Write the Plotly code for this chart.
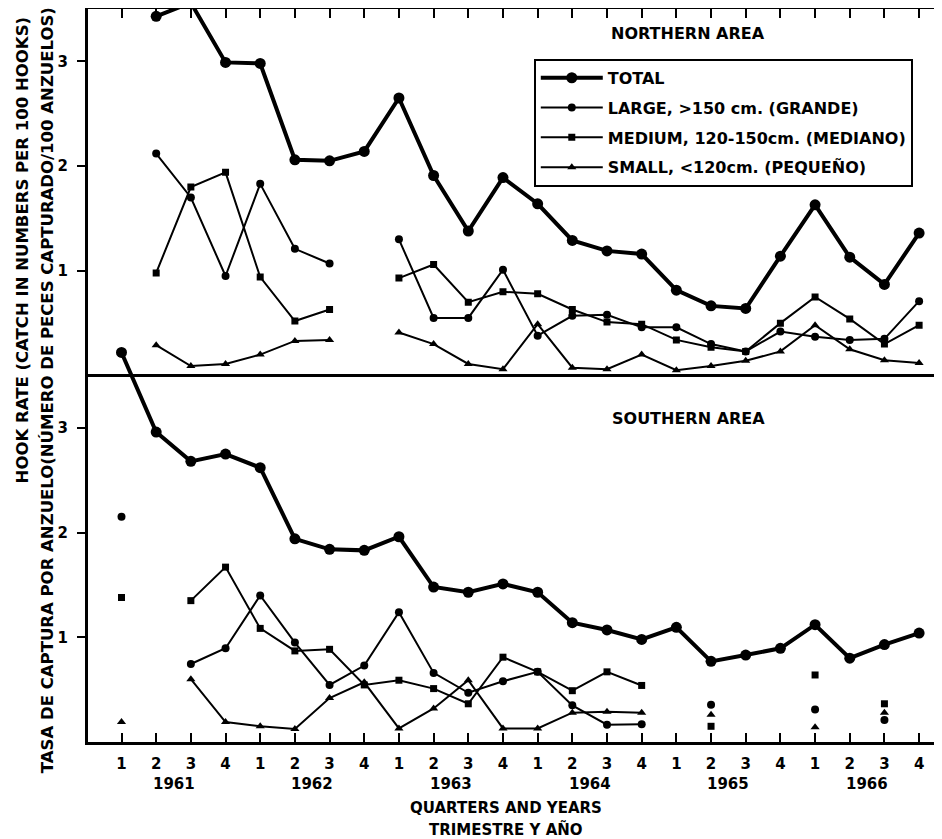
import plotly.graph_objects as go

# quarter positions 1961 Q1 .. 1966 Q4
quarters = list(range(24))
quarter_labels = ["1", "2", "3", "4"] * 6
years = [1961, 1962, 1963, 1964, 1965, 1966]

# Northern area hook rates
total_n = [None, 3.43, 3.56, 2.99, 2.98, 2.06, 2.05, 2.14, 2.65, 1.91, 1.38, 1.89,
           1.64, 1.29, 1.19, 1.16, 0.815, 0.665, 0.64, 1.14, 1.63, 1.13, 0.87, 1.36]
large_n = [None, 2.12, 1.70, 0.95, 1.83, 1.21, 1.07, None, 1.30, 0.55, 0.55, 1.01,
           0.38, 0.57, 0.58, 0.46, 0.46, 0.30, 0.23, 0.42, 0.37, 0.34, 0.35, 0.71]
medium_n = [None, 0.98, 1.80, 1.94, 0.94, 0.52, 0.63, None, 0.93, 1.06, 0.70, 0.80,
            0.78, 0.63, 0.51, 0.49, 0.34, 0.27, 0.23, 0.50, 0.75, 0.54, 0.30, 0.48]
small_n = [None, 0.29, 0.09, 0.11, 0.20, 0.33, 0.34, None, 0.41, 0.30, 0.11, 0.06,
           0.49, 0.075, 0.06, 0.20, 0.05, 0.09, 0.14, 0.23, 0.48, 0.25, 0.145, 0.12]

# Southern area hook rates
total_s = [3.72, 2.96, 2.68, 2.75, 2.62, 1.94, 1.84, 1.83, 1.96, 1.48, 1.43, 1.51,
           1.43, 1.14, 1.07, 0.98, 1.095, 0.77, 0.83, 0.895, 1.12, 0.80, 0.93, 1.04]
large_s = [2.15, None, 0.745, 0.895, 1.40, 0.95, 0.545, 0.73, 1.24, 0.66, 0.47, 0.58,
           0.67, 0.35, 0.165, 0.17, None, 0.355, None, None, 0.31, None, 0.21, None]
medium_s = [1.38, None, 1.35, 1.67, 1.085, 0.87, 0.885, 0.545, 0.59, 0.51, 0.365, 0.81,
            0.67, 0.49, 0.67, 0.54, None, 0.15, None, None, 0.64, None, 0.365, None]
small_s = [0.19, None, 0.60, 0.19, 0.15, 0.125, 0.42, 0.57, 0.13, 0.32, 0.59, 0.13,
           0.13, 0.28, 0.29, 0.28, None, 0.26, None, None, 0.14, None, 0.28, None]

series = [
    ("TOTAL", total_n, total_s, "circle", 11, 4),
    ("LARGE, &gt;150 cm. (GRANDE)", large_n, large_s, "circle", 8, 2),
    ("MEDIUM, 120-150cm. (MEDIANO)", medium_n, medium_s, "square", 7, 2),
    ("SMALL, &lt;120cm. (PEQUEÑO)", small_n, small_s, "triangle-up", 8, 2),
]

fig = go.Figure()

for name, north, south, symbol, msize, lw in series:
    fig.add_trace(go.Scatter(
        x=quarters, y=north, mode="lines+markers", name=name, legendgroup=name,
        line=dict(color="black", width=lw),
        marker=dict(symbol=symbol, size=msize, color="black"),
        xaxis="x", yaxis="y",
    ))
    fig.add_trace(go.Scatter(
        x=quarters, y=south, mode="lines+markers", name=name, legendgroup=name,
        showlegend=False, connectgaps=False,
        line=dict(color="black", width=lw),
        marker=dict(symbol=symbol, size=msize, color="black"),
        xaxis="x", yaxis="y2",
    ))

axis_font = dict(family="DejaVu Sans", size=15, color="black", weight="bold")
y_common = dict(
    tickmode="array", tickvals=[1, 2, 3], anchor="x",
    ticks="outside", ticklen=8, tickwidth=2, tickcolor="black",
    showline=True, linewidth=3, linecolor="black",
    showgrid=False, zeroline=False, tickfont=axis_font,
    ticklabelstandoff=6, automargin=False,
)

# the page body adds an 8px offset, so the figure is 8px smaller than the window
fig.update_layout(
    width=934, height=831,
    margin=dict(l=80, r=0, t=1, b=97),
    paper_bgcolor="white", plot_bgcolor="rgba(0,0,0,0)",
    font=dict(family="DejaVu Sans", size=15, color="black", weight="bold"),
    xaxis=dict(
        domain=[0, 1], range=[-0.966, 23.66], anchor="y2",
        tickmode="array", tickvals=quarters, ticktext=quarter_labels,
        ticks="inside", ticklen=9, tickwidth=2, tickcolor="black",
        showline=True, linewidth=3, linecolor="black", mirror="ticks",
        showgrid=False, zeroline=False, tickfont=axis_font,
        ticklabelstandoff=6, automargin=False,
    ),
    yaxis=dict(domain=[0.5, 1], range=[0, 3.5], **y_common),
    yaxis2=dict(domain=[0, 1], range=[0, 7], **y_common),
    legend=dict(
        x=0.522, y=0.932, xanchor="left", yanchor="top",
        bgcolor="white", bordercolor="black", borderwidth=2,
        font=dict(family="DejaVu Sans", size=16, color="black", weight="bold"),
        tracegroupgap=6, itemwidth=62,
    ),
    shapes=[dict(type="line", xref="paper", yref="paper", x0=0, x1=1, y0=0.5, y1=0.5,
                 line=dict(color="black", width=3))],
)

annotations = [
    dict(text="NORTHERN AREA", x=0.703, y=0.967),
    dict(text="SOUTHERN AREA", x=0.703, y=0.442),
    dict(text="QUARTERS AND YEARS", x=0.49, y=-0.090, font=dict(size=15)),
    dict(text="TRIMESTRE Y AÑO", x=0.49, y=-0.1187, font=dict(size=15)),
    dict(text="HOOK RATE (CATCH IN NUMBERS PER 100 HOOKS)", x=-0.0773, y=0.672,
         textangle=-90, font=dict(size=16.5)),
    dict(text="TASA DE CAPTURA POR ANZUELO(NÚMERO DE PECES CAPTURADO/100 ANZUELOS)",
         x=-0.048, y=0.48, textangle=-90, font=dict(size=16.5)),
]
for a in annotations:
    a.update(xref="paper", yref="paper", showarrow=False, xanchor="center",
             yanchor="middle")
    a.setdefault("font", dict(size=16))
for k, yr in enumerate(years):
    annotations.append(dict(text=str(yr), x=4 * k + 1.5, y=-0.0573, xref="x",
                            yref="paper", showarrow=False, xanchor="center",
                            yanchor="middle", font=dict(size=15)))
fig.update_layout(annotations=annotations)

fig.write_html("out.html")
